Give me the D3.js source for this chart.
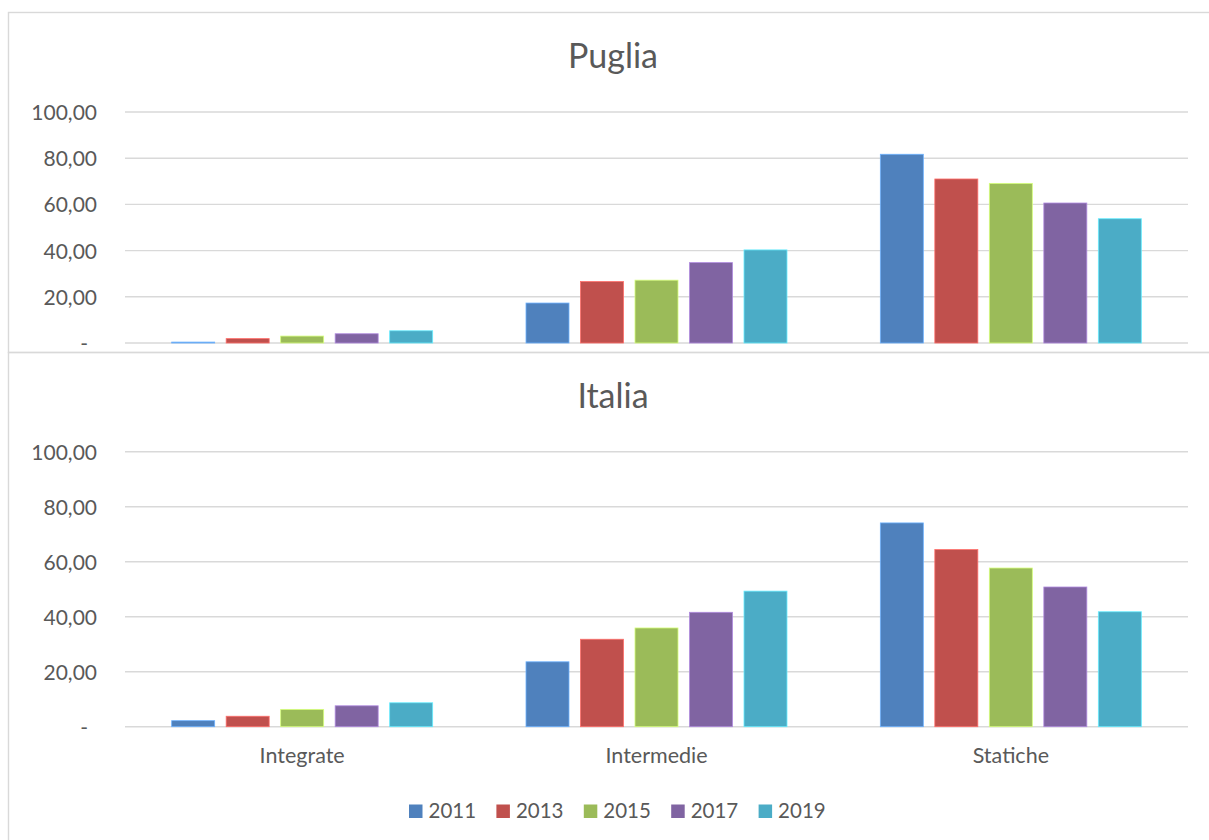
<!DOCTYPE html>
<html>
<head>
<meta charset="utf-8">
<script src="https://cdn.jsdelivr.net/npm/d3@7"></script>
<style>
  html, body { margin: 0; padding: 0; background: #fff; }
  svg { display: block; font-family: Lato, "Noto Sans", sans-serif; }
</style>
</head>
<body>
<svg id="chart" width="1209" height="840"></svg>
<script>
// Categories, series and tick labels
const categories = ["Integrate", "Intermedie", "Statiche"];
const years = ["2011", "2013", "2015", "2017", "2019"];
const colors = ["#4f81bd", "#c0504d", "#9bbb59", "#8064a2", "#4bacc6"];
const yTicks = [0, 20, 40, 60, 80, 100];

// Values per year, one array per region (order follows categories)
const puglia2011 = [0.4, 17.3, 81.7];
const puglia2013 = [1.9, 26.6, 71.0];
const puglia2015 = [3.0, 27.2, 69.1];
const puglia2017 = [4.0, 34.8, 60.6];
const puglia2019 = [5.3, 40.3, 53.8];

const italia2011 = [2.2, 23.6, 74.1];
const italia2013 = [3.8, 31.8, 64.4];
const italia2015 = [6.3, 35.9, 57.7];
const italia2017 = [7.6, 41.6, 50.8];
const italia2019 = [8.7, 49.3, 41.8];

const panels = [
  { title: "Puglia", series: [puglia2011, puglia2013, puglia2015, puglia2017, puglia2019],
    box: [8.5, 12.5, 1230, 340], plotTop: 112, plotBottom: 343, titleY: 68, showCats: false },
  { title: "Italia", series: [italia2011, italia2013, italia2015, italia2017, italia2019],
    box: [8.5, 352.5, 1230, 520], plotTop: 451.7, plotBottom: 726.7, titleY: 408, showCats: true }
];

const svg = d3.select("#chart");
const textColor = "#595959";
const gridColor = "#d9d9d9";
const plotLeft = 125, plotRight = 1188;

// Category band and year sub-band
const pIn = 1 - 272.5 / ((plotRight - plotLeft) / 3);
const x0 = d3.scaleBand().domain(categories).range([plotLeft, plotRight])
  .paddingInner(pIn).paddingOuter(pIn / 2);
const qIn = 1 - 43 / 54.5;
const x1 = d3.scaleBand().domain(years).range([0, x0.bandwidth()])
  .paddingInner(qIn).paddingOuter(qIn / 2);

const fmt = v => v === 0 ? "-" : d3.format(".2f")(v).replace(".", ",");

panels.forEach(p => {
  const g = svg.append("g");
  g.append("rect")
    .attr("x", p.box[0]).attr("y", p.box[1])
    .attr("width", p.box[2]).attr("height", p.box[3])
    .attr("fill", "none").attr("stroke", gridColor).attr("stroke-width", 1.4);

  const y = d3.scaleLinear().domain([0, 100]).range([p.plotBottom, p.plotTop]);

  // Gridlines
  g.append("g").selectAll("line").data(yTicks).join("line")
    .attr("x1", plotLeft).attr("x2", plotRight)
    .attr("y1", d => y(d)).attr("y2", d => y(d))
    .attr("stroke", gridColor).attr("stroke-width", 1.4);

  // Y axis labels
  const yAxis = d3.axisLeft(y).tickValues(yTicks).tickFormat(fmt).tickSize(0).tickPadding(0);
  const ax = g.append("g").attr("transform", `translate(97,0)`).call(yAxis);
  ax.select(".domain").remove();
  ax.selectAll("text")
    .attr("fill", textColor).attr("font-size", 21).attr("font-family", "Lato, sans-serif")
    .attr("dy", "0.36em")
    .attr("x", d => d === 0 ? -9 : 0);

  // Bars
  categories.forEach((cat, ci) => {
    const grp = g.append("g").attr("transform", `translate(${x0(cat)},0)`);
    years.forEach((yr, si) => {
      const v = p.series[si][ci];
      const c = colors[si];
      grp.append("rect")
        .attr("x", x1(yr)).attr("width", x1.bandwidth())
        .attr("y", y(v)).attr("height", y(0) - y(v))
        .attr("fill", c)
        .attr("stroke", d3.color(c).brighter(0.9)).attr("stroke-width", 0.8);
    });
  });

  // Title
  g.append("text").attr("x", 613).attr("y", p.titleY)
    .attr("text-anchor", "middle").attr("font-size", 34).attr("fill", textColor)
    .text(p.title);

  // Category labels
  if (p.showCats) {
    const xAxis = d3.axisBottom(x0).tickSize(0).tickPadding(0);
    const xa = g.append("g").attr("transform", `translate(0,${p.plotBottom})`).call(xAxis);
    xa.select(".domain").remove();
    xa.selectAll("text")
      .attr("fill", textColor).attr("font-size", 21.5).attr("font-family", "Lato, sans-serif")
      .attr("dy", 0).attr("y", 36);
  }
});

// Legend
const legend = svg.append("g").attr("transform", "translate(409,0)");
years.forEach((yr, i) => {
  const lg = legend.append("g").attr("transform", `translate(${i * 87.4},0)`);
  lg.append("rect").attr("x", 0).attr("y", 804.5).attr("width", 13.5).attr("height", 13.5)
    .attr("fill", colors[i]);
  lg.append("text").attr("x", 19.5).attr("y", 818).attr("font-size", 20.5)
    .attr("fill", textColor).text(yr);
});
</script>
</body>
</html>
